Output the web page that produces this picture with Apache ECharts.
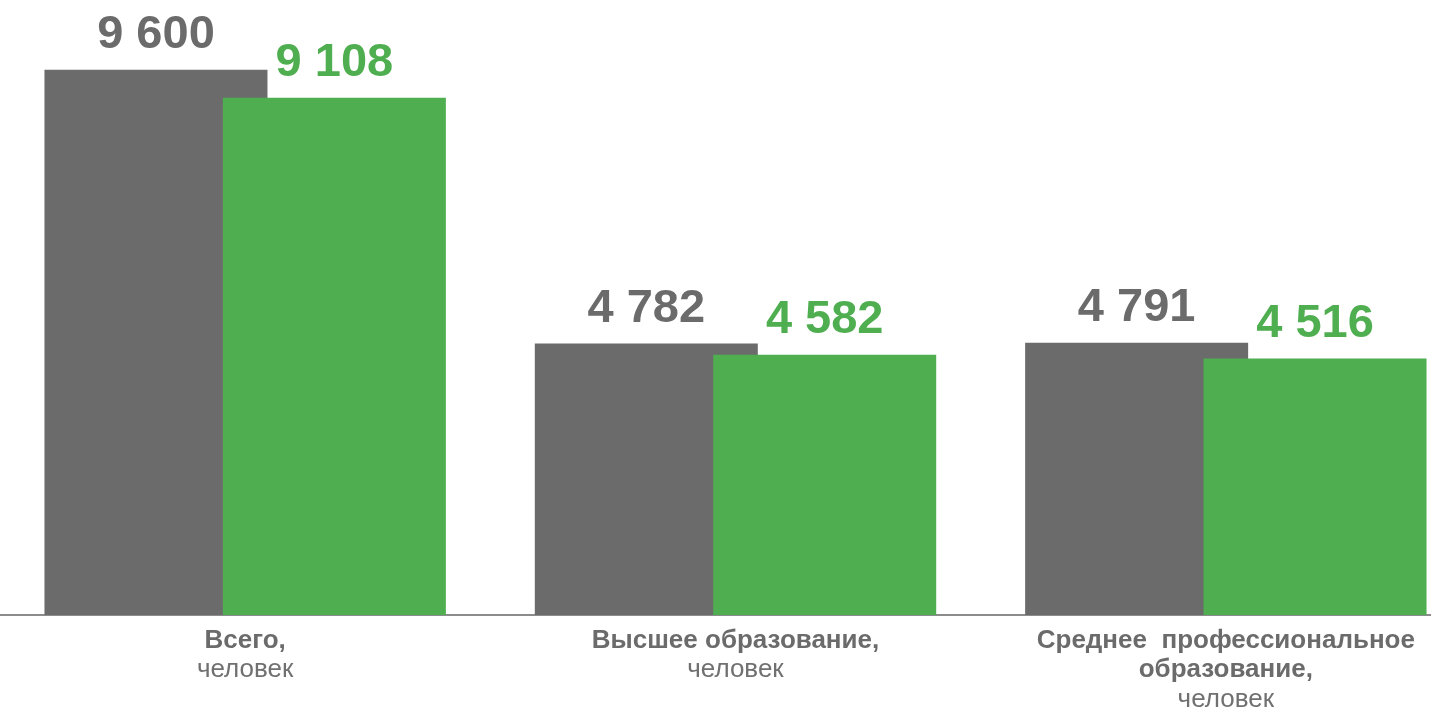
<!DOCTYPE html>
<html>
<head>
<meta charset="utf-8">
<script src="https://cdn.jsdelivr.net/npm/echarts@6/dist/echarts.min.js"></script>
<style>
  html, body { margin: 0; padding: 0; background: #fff; }
  #chart { width: 1431px; height: 708px; }
</style>
</head>
<body>
<div id="chart"></div>
<script>
// категории (жирная часть подписи) и единица измерения
const categories = ['Всего,', 'Высшее образование,', 'Среднее  профессиональное\nобразование,'];
const unitLabel = 'человек';
// значения двух рядов
const greyValues = [9600, 4782, 4791];
const greenValues = [9108, 4582, 4516];

const GREY = '#6b6b6b';
const GREEN = '#4fae50';

function fmt(v) {
  return String(v).replace(/\B(?=(\d{3})+(?!\d))/g, ' ');
}

var myChart = echarts.init(document.getElementById('chart'));

var labelStyle = function(color) {
  return {
    show: true,
    position: 'top',
    distance: 11,
    color: color,
    fontFamily: 'Liberation Sans, Arial, sans-serif',
    fontWeight: 'bold',
    fontSize: 47,
    formatter: function(p) { return fmt(p.value) }
  }
}

var option = {
  animation: false,
  grid: {
    left: 0,
    right: -40,
    top: 47,
    bottom: 93,
    outerBoundsMode: 'none'
  },
  xAxis: {
    type: 'category',
    data: categories,
    axisTick: { show: false },
    axisLine: { lineStyle: { color: '#8c8c8c', width: 2 } },
    axisLabel: {
      margin: 11,
      interval: 0,
      formatter: function(val) {
        let lines = val.split('\n').map(s => '{b|' + s + '}')
        lines.push('{n|' + unitLabel + '}')
        return lines.join('\n')
      },
      rich: {
        b: {
          fontFamily: 'Liberation Sans, Arial, sans-serif',
          fontWeight: 'bold',
          fontSize: 26,
          lineHeight: 29.5,
          color: '#6b6b6b'
        },
        n: {
          fontFamily: 'Liberation Sans, Arial, sans-serif',
          fontSize: 26,
          lineHeight: 29.5,
          color: '#707070'
        }
      }
    }
  },
  yAxis: {
    type: 'value',
    min: 0,
    max: 10000,
    show: false,
    splitLine: { show: false }
  },
  series: [
    {
      name: 'grey',
      type: 'bar',
      data: greyValues,
      barWidth: 223,
      barGap: '-20%',
      itemStyle: { color: GREY },
      label: labelStyle(GREY)
    },
    {
      name: 'green',
      type: 'bar',
      data: greenValues,
      barWidth: 223,
      itemStyle: { color: GREEN },
      label: labelStyle(GREEN)
    }
  ]
};
myChart.setOption(option);
</script>
</body>
</html>
